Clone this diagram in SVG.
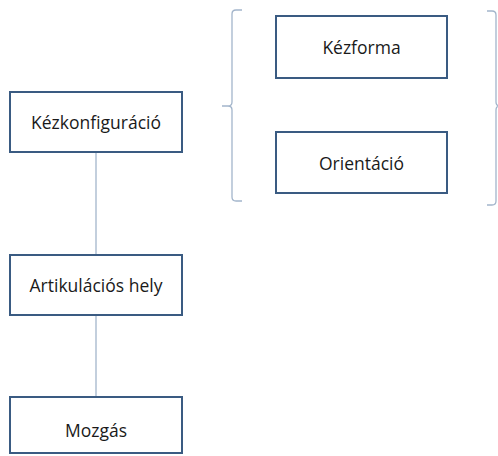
<svg xmlns="http://www.w3.org/2000/svg" width="498" height="456" viewBox="0 0 498 456">
<style>
.box{fill:#fff;stroke:#3a5b82;stroke-width:2}
.lbl{font-family:"Open Sans","Liberation Sans",sans-serif;font-size:17.5px;fill:#1a1a1a;text-anchor:middle;dominant-baseline:central}
.con{fill:none;stroke:#a3b5cb;stroke-width:1.3}
</style>
<rect width="498" height="456" fill="#fff"/>
<g id="connectors">
<line class="con" x1="96" y1="152" x2="96" y2="255"/>
<line class="con" x1="96" y1="315" x2="96" y2="397"/>
<path class="con" d="M242,10 L236,10 Q232,10 232,14 L232,102 Q232,106 228,106 L222,106 M228,106 Q232,106 232,110 L232,197 Q232,201 236,201 L242,201"/>
<path class="con" d="M487,11 L492,11 Q496,11 496,15 L496,102 Q496,106 500,106 M500,106 Q496,106 496,110 L496,201 Q496,205 492,205 L487,205"/>
</g>
<g id="kezkonfiguracio"><rect class="box" x="10" y="92" width="172" height="60"/><text class="lbl" x="96" y="122">Kézkonfiguráció</text></g>
<g id="artikulacios"><rect class="box" x="10" y="255" width="172" height="60"/><text class="lbl" x="96" y="285">Artikulációs hely</text></g>
<g id="mozgas"><rect class="box" x="10" y="397" width="172" height="56"/><text class="lbl" x="96" y="430">Mozgás</text></g>
<g id="kezforma"><rect class="box" x="276" y="16" width="171" height="62"/><text class="lbl" x="361.5" y="47">Kézforma</text></g>
<g id="orientacio"><rect class="box" x="276" y="132" width="171" height="61"/><text class="lbl" x="361.5" y="163">Orientáció</text></g>
</svg>
